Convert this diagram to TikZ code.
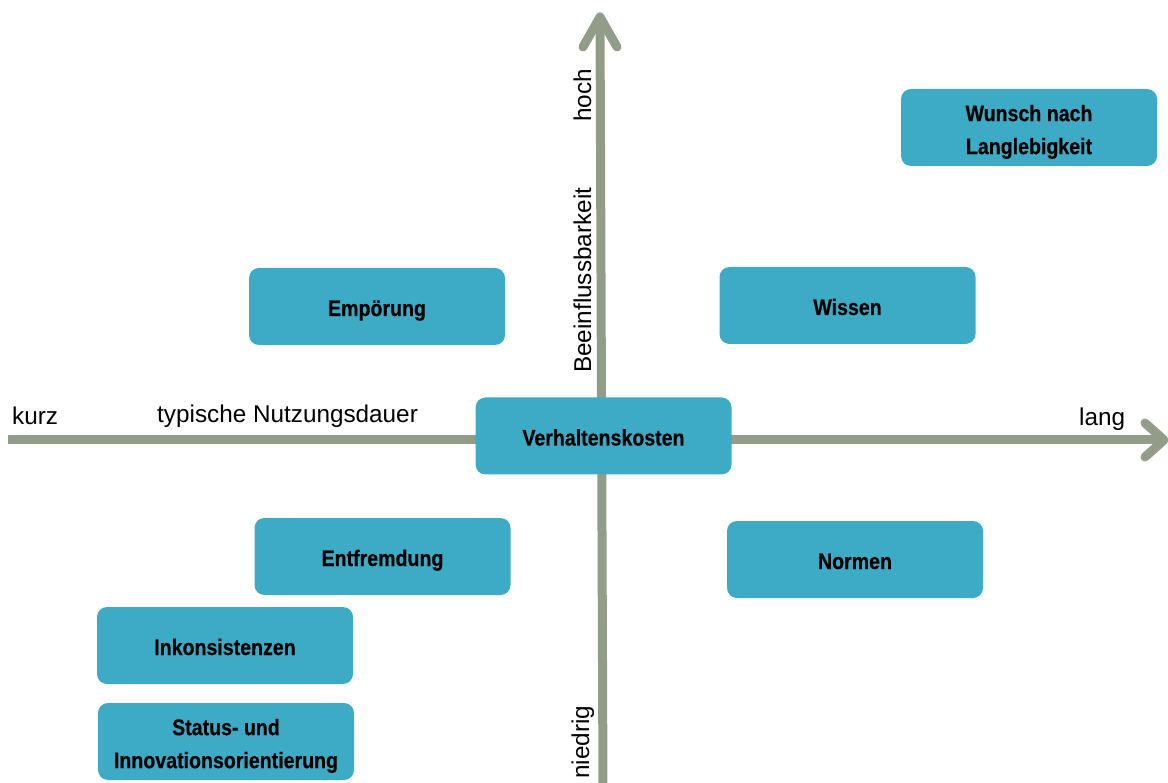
\documentclass[tikz,border=0pt]{standalone}
\usepackage{fontspec}
\setmainfont{Liberation Sans}
\newfontfamily\boxfont[FakeStretch=0.87,FakeBold=0.4]{Liberation Sans}
\definecolor{boxblue}{RGB}{61,170,198}
\definecolor{axisgray}{RGB}{147,156,136}
\newcommand{\firstlinestrut}{\rule{0pt}{25pt}}
\begin{document}
\begin{tikzpicture}[x=1pt,y=-1pt,
  factor/.style={draw=none,fill=boxblue,rounded corners=10pt,minimum width=256pt,minimum height=77pt,
    inner sep=0pt,align=center,font=\boxfont\bfseries\fontsize{22.5}{33}\selectfont,text=black},
  oneline/.style={factor,text height=19pt,text depth=0pt},
  axisline/.style={draw=axisgray,line width=9pt},
  tipline/.style={draw=axisgray,line width=9pt,line cap=round,line join=round},
  lbl/.style={font=\fontsize{24.3}{28}\selectfont,inner sep=0pt,text=black}]
\useasboundingbox (0,0) rectangle (1168,783);
% axes
\coordinate (L) at (8,440);
\coordinate (R) at (1164,440);
\coordinate (T) at (600,17);
\coordinate (B) at (603,790);
\coordinate (Ra) at (1145,423);
\coordinate (Rb) at (1145,457);
\coordinate (Ta) at (583,47);
\coordinate (Tb) at (617,47);
\draw[axisline] (L) -- (R);
\draw[axisline] (B) -- (T);
\draw[tipline] (Ra) -- (R) -- (Rb);
\draw[tipline] (Ta) -- (T) -- (Tb);
% axis labels
\node[lbl,anchor=base west] (kurz) at (12,425) {kurz};
\node[lbl,anchor=base west] (dauer) at (157,423) {typische Nutzungsdauer};
\node[lbl,anchor=base west] (lang) at (1079,426) {lang};
\node[lbl,anchor=base west,rotate=90] (hoch) at (591,122) {hoch};
\node[lbl,anchor=base west,rotate=90] (beein) at (591,373) {Beeinflussbarkeit};
\node[lbl,anchor=base west,rotate=90] (niedrig) at (589,779) {niedrig};
% boxes
\node[factor] (wunsch) at (1029,127.5) {\firstlinestrut Wunsch nach\\Langlebigkeit};
\node[oneline] (empoerung) at (377,306.5) {Empörung};
\node[oneline] (wissen) at (847.5,305.5) {Wissen};
\node[oneline] (kosten) at (603.5,436) {Verhaltenskosten};
\node[oneline] (entfremdung) at (382.5,556.5) {Entfremdung};
\node[oneline] (normen) at (855,559.5) {Normen};
\node[oneline] (inkons) at (225,645.5) {Inkonsistenzen};
\node[factor] (status) at (226,741.5) {\firstlinestrut Status- und\\Innovationsorientierung};
\end{tikzpicture}
\end{document}
